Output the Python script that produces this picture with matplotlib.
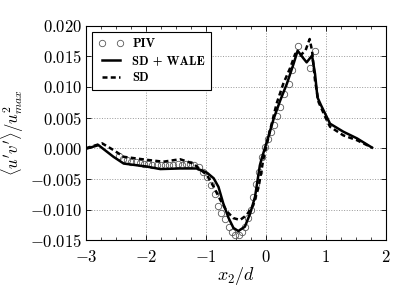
import numpy as np
import matplotlib
matplotlib.use('Agg')
import matplotlib.pyplot as plt
from matplotlib.ticker import FuncFormatter, MultipleLocator

# *****************************************************************************

# PIV measurements
piv_x = [-2.45, -2.38, -2.31, -2.24, -2.17, -2.10, -2.03, -1.96, -1.89, -1.82,
         -1.75, -1.68, -1.61, -1.54, -1.47, -1.40, -1.33, -1.26, -1.19, -1.12,
         -1.05, -0.98, -0.91, -0.85, -0.80, -0.74, -0.68, -0.62, -0.57, -0.51,
         -0.45, -0.39, -0.34, -0.29, -0.25, -0.21, -0.17, -0.12, -0.07, -0.02,
         0.03, 0.08, 0.13, 0.18, 0.24, 0.31, 0.38, 0.43, 0.54, 0.74, 0.82]
piv_y = [-0.0013, -0.0017, -0.0020, -0.0022, -0.0023, -0.0024, -0.0025, -0.0026,
         -0.0027, -0.0027, -0.0028, -0.0027, -0.0028, -0.0027, -0.0026, -0.0027,
         -0.0026, -0.0025, -0.0027, -0.0031, -0.0039, -0.0047, -0.0060, -0.0075,
         -0.0095, -0.0106, -0.0116, -0.0128, -0.0136, -0.0141, -0.0142, -0.0136,
         -0.0128, -0.0114, -0.0100, -0.0080, -0.0058, -0.0038, -0.0015, 0.0002,
         0.0015, 0.0027, 0.0038, 0.0052, 0.0068, 0.0088, 0.0105, 0.0127, 0.0166,
         0.0130, 0.0158]

# SD + WALE
wale_x = [-3.00, -2.79, -2.54, -2.37, -1.98, -1.76, -1.43, -1.15, -0.98, -0.87,
          -0.79, -0.71, -0.62, -0.54, -0.46, -0.35, -0.26, -0.18, -0.10, -0.07,
          0.04, 0.13, 0.24, 0.35, 0.46, 0.53, 0.63, 0.68, 0.77, 0.82, 0.86, 0.92,
          1.07, 1.29, 1.52, 1.77]
wale_y = [-0.0001, 0.0005, -0.0014, -0.0025, -0.0030, -0.0034, -0.0033, -0.0033,
          -0.0040, -0.0049, -0.0063, -0.0090, -0.0114, -0.0130, -0.0135, -0.0128,
          -0.0106, -0.0079, -0.0028, -0.0017, 0.0018, 0.0048, 0.0078, 0.0105,
          0.0137, 0.0159, 0.0146, 0.0140, 0.0151, 0.0121, 0.0083, 0.0070, 0.0040,
          0.0027, 0.0016, 0.0001]

# SD
sd_x = [-3.00, -2.73, -2.54, -2.37, -1.98, -1.71, -1.43, -1.21, -0.98, -0.87,
        -0.76, -0.65, -0.54, -0.43, -0.32, -0.21, -0.12, -0.04, 0.07, 0.18,
        0.29, 0.41, 0.49, 0.57, 0.66, 0.73, 0.77, 0.82, 0.88, 0.99, 1.07, 1.29,
        1.52, 1.77]
sd_y = [0.0000, 0.0008, -0.0003, -0.0014, -0.0019, -0.0022, -0.0018, -0.0025,
        -0.0044, -0.0063, -0.0084, -0.0103, -0.0114, -0.0117, -0.0109, -0.0093,
        -0.0063, -0.0017, 0.0029, 0.0073, 0.0105, 0.0132, 0.0154, 0.0151, 0.0159,
        0.0178, 0.0159, 0.0110, 0.0075, 0.0051, 0.0035, 0.0021, 0.0013, 0.0001]

# *****************************************************************************


def make_fig():

    plt.rcParams['mathtext.fontset'] = 'cm'
    plt.rcParams['font.family'] = 'serif'
    plt.rcParams['font.serif'] = ['cmr10', 'DejaVu Serif']

    fig01 = plt.figure(figsize=(4.07, 2.87), dpi=100)
    axs01 = fig01.add_axes([0.211, 0.163, 0.737, 0.748])

    axs01.grid(visible=True, which='major', ls=':', lw=0.7, color='0.6')
    axs01.set_axisbelow(True)

    axs01.plot(piv_x, piv_y, ls='none', marker='o', ms=4.6, mfc='none',
               mec='0.35', mew=0.6, label='PIV')
    axs01.plot(wale_x, wale_y, ls='-', color='k', lw=1.8, label='SD + WALE')
    axs01.plot(sd_x, sd_y, ls='--', color='k', lw=1.8, dashes=(2.0, 1.3),
               label='SD')

    axs01.set_xlim(-3, 2)
    axs01.set_ylim(-0.015, 0.020)
    axs01.xaxis.set_major_locator(MultipleLocator(1))
    axs01.xaxis.set_minor_locator(MultipleLocator(0.25))
    axs01.yaxis.set_major_locator(MultipleLocator(0.005))
    axs01.xaxis.set_major_formatter(FuncFormatter(lambda v, p: r'$%d$' % round(v)))
    axs01.yaxis.set_major_formatter(FuncFormatter(lambda v, p: r'$%.3f$' % v))

    axs01.tick_params(axis='both', which='both', direction='in', top=True,
                      right=True, labelsize=12)
    axs01.tick_params(axis='y', which='major', pad=2.5)
    axs01.tick_params(axis='x', which='major', pad=6)
    axs01.tick_params(axis='both', which='major', length=3.5, width=0.6)
    axs01.tick_params(axis='both', which='minor', length=2, width=0.5)
    for sp in axs01.spines.values():
        sp.set_linewidth(0.8)

    axs01.set_xlabel(r'$x_2/d$', fontsize=13, labelpad=0)
    axs01.set_ylabel(r"$\langle u'v'\rangle/u^2_{max}$", fontsize=12, labelpad=3)

    leg = axs01.legend(loc='upper left', numpoints=2, handlelength=2.0,
                       handletextpad=0.7,
                       prop={'family': 'cmb10', 'size': 9}, fancybox=False,
                       edgecolor='k', framealpha=1, borderpad=0.5,
                       labelspacing=0.4, borderaxespad=0.5)
    leg.get_frame().set_linewidth(0.8)

    plt.savefig('out.png', dpi=100)
    plt.close()

    return None

# *****************************************************************************


if (__name__ == "__main__"):

    make_fig()

# *****************************************************************************
